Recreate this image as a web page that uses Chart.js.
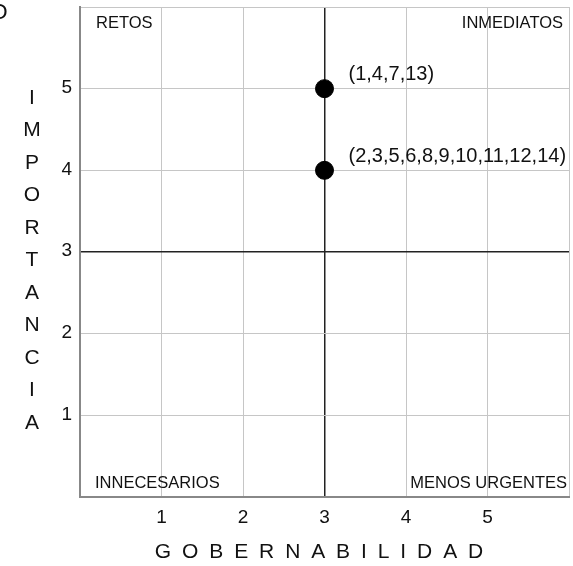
<!DOCTYPE html>
<html>
<head>
<meta charset="utf-8">
<script src="https://cdn.jsdelivr.net/npm/chart.js@4"></script>
<style>
  html, body { margin: 0; padding: 0; background: #fff; }
  #wrap { width: 573px; height: 566px; position: relative; }
</style>
</head>
<body>
<div id="wrap"><canvas id="matrix"></canvas></div>
<script>
// Datos de la matriz
const gobernabilidad = [3, 3];
const importancia = [5, 4];
const etiquetasPuntos = ["(1,4,7,13)", "(2,3,5,6,8,9,10,11,12,14)"];
const ticksEje = [1, 2, 3, 4, 5];
const cuadrantes = ["RETOS", "INMEDIATOS", "INNECESARIOS", "MENOS URGENTES"];
const tituloX = "GOBERNABILIDAD";
const tituloY = "IMPORTANCIA";

const FONT = "'Liberation Sans', Arial, sans-serif";

// Textos dibujados a mano (ticks, cuadrantes, etiquetas, títulos)
const textosPlugin = {
  id: "textos",
  afterDraw(chart) {
    const c = chart.ctx;
    const area = chart.chartArea;
    const sx = chart.scales.x, sy = chart.scales.y;
    c.save();
    c.fillStyle = "#111";
    c.textBaseline = "middle";

    // etiquetas de los ejes
    c.font = "19px " + FONT;
    c.textAlign = "center";
    ticksEje.forEach((v) => c.fillText(String(v), sx.getPixelForValue(v), area.bottom + 21));
    c.textAlign = "right";
    ticksEje.forEach((v) => c.fillText(String(v), area.left - 8, sy.getPixelForValue(v) - 1));

    // cuadrantes
    c.font = "16.5px " + FONT;
    c.textAlign = "left";
    c.fillText(cuadrantes[0], area.left + 16, 23);
    c.fillText(cuadrantes[2], area.left + 15, 483);
    c.textAlign = "right";
    c.fillText(cuadrantes[1], area.right - 6, 23);
    c.fillText(cuadrantes[3], area.right - 2, 483);

    // etiquetas de los puntos
    c.font = "20px " + FONT;
    c.textAlign = "left";
    etiquetasPuntos.forEach((t, i) => {
      const px = sx.getPixelForValue(gobernabilidad[i]);
      const py = sy.getPixelForValue(importancia[i]);
      c.fillText(t, px + 24, py - 14);
    });

    // título eje Y en vertical
    c.font = "21px " + FONT;
    c.textAlign = "center";
    [...tituloY].forEach((ch, i) => c.fillText(ch, 32, 98 + i * 32.5));

    // título eje X con espaciado entre letras
    c.textAlign = "left";
    const gap = 10.9;
    const letras = [...tituloX];
    const total = letras.reduce((s, ch) => s + c.measureText(ch).width, 0) + gap * (letras.length - 1);
    let x = 319 - total / 2;
    letras.forEach((ch) => {
      c.fillText(ch, x, 552);
      x += c.measureText(ch).width + gap;
    });

    // letra cortada arriba a la izquierda
    c.font = "22px " + FONT;
    c.textAlign = "center";
    c.fillText("O", -1, 13);
    c.restore();
  }
};

const ctx = document.getElementById("matrix").getContext("2d");
const gridColor = (c) => (c.tick && c.tick.value === 3 ? "#222" : "#c6c6c6");
const gridWidth = (c) => (c.tick && c.tick.value === 3 ? 1.5 : 1);

new Chart(ctx, {
  type: "scatter",
  data: {
    datasets: [{
      data: gobernabilidad.map((x, i) => ({ x: x, y: importancia[i] })),
      backgroundColor: "#000",
      borderColor: "#000",
      pointRadius: 9,
      pointHoverRadius: 9
    }]
  },
  options: {
    responsive: true,
    maintainAspectRatio: false,
    animation: false,
    layout: { autoPadding: false, padding: { top: 7, right: 4, left: 0, bottom: 0 } },
    plugins: { legend: { display: false }, tooltip: { enabled: false } },
    scales: {
      x: {
        min: 0, max: 6,
        ticks: { stepSize: 1, display: false },
        grid: { color: gridColor, lineWidth: gridWidth, drawTicks: false },
        border: { color: "#888", width: 2 },
        afterFit(scale) { scale.height = 69; }
      },
      y: {
        min: 0, max: 6,
        ticks: { stepSize: 1, display: false },
        grid: { color: gridColor, lineWidth: gridWidth, drawTicks: false },
        border: { color: "#888", width: 2 },
        afterFit(scale) { scale.width = 80; }
      }
    }
  },
  plugins: [textosPlugin]
});
</script>
</body>
</html>
